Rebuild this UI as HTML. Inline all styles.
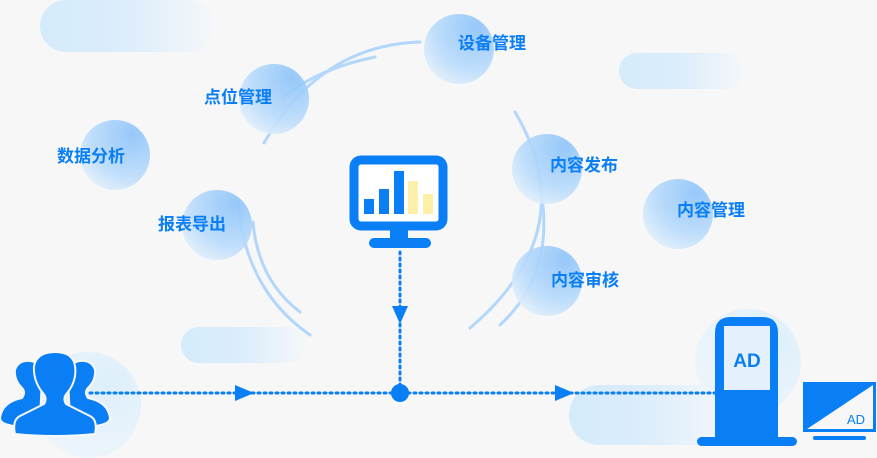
<!DOCTYPE html>
<html><head><meta charset="utf-8"><style>
body{margin:0;background:#f7f7f8;}
svg{display:block;font-family:"Liberation Sans","Noto Sans CJK SC",sans-serif;}
</style></head><body>
<svg width="877" height="458" viewBox="0 0 877 458">
<defs>
<radialGradient id="c" cx="0.75" cy="0.2" r="1">
<stop offset="0" stop-color="#8cc3fa"/><stop offset="0.6" stop-color="#b9dbfb"/><stop offset="1" stop-color="#eef5fc"/>
</radialGradient>
<linearGradient id="p" x1="0" x2="1"><stop offset="0" stop-color="#d4ebfb"/><stop offset="0.5" stop-color="#dcedfb"/><stop offset="1" stop-color="#f5f7f9"/></linearGradient>
<radialGradient id="g" cx="0.7" cy="0.3" r="0.8"><stop offset="0" stop-color="#ddeffb"/><stop offset="1" stop-color="#eef5fb"/></radialGradient>
</defs>
<rect x="40" y="0" width="175" height="52" rx="26" fill="url(#p)"/>
<rect x="619" y="53" width="125" height="36" rx="18" fill="url(#p)"/>
<rect x="181" y="327" width="125" height="36" rx="18" fill="url(#p)"/>
<rect x="569" y="385" width="160" height="60" rx="30" fill="url(#p)"/>
<circle cx="88" cy="405" r="53" fill="url(#g)"/>
<circle cx="748" cy="362" r="53" fill="url(#g)"/>
<g fill="none" stroke="#b3d7fb" stroke-width="3" stroke-linecap="round">
<path d="M264 143 Q320 45 420 42"/>
<path d="M283 97 Q320 68 375 57"/>
<path d="M515 112 Q585 230 470 328"/>
<path d="M538 175 Q560 270 500 325"/>
<path d="M238 202 Q245 290 310 335"/>
<path d="M253 222 Q258 280 300 312"/>
</g>
<circle cx="459" cy="49" r="35" fill="url(#c)" opacity="0.9"/>
<circle cx="274" cy="99" r="35" fill="url(#c)" opacity="0.9"/>
<circle cx="115" cy="155" r="35" fill="url(#c)" opacity="0.9"/>
<circle cx="217" cy="225" r="35" fill="url(#c)" opacity="0.9"/>
<circle cx="547" cy="169" r="35" fill="url(#c)" opacity="0.9"/>
<circle cx="678" cy="214" r="35" fill="url(#c)" opacity="0.9"/>
<circle cx="547" cy="281" r="35" fill="url(#c)" opacity="0.9"/>
<g fill="#0a7ff5" font-size="17" font-weight="bold" text-anchor="middle">
<text x="492" y="49">设备管理</text>
<text x="238" y="103">点位管理</text>
<text x="91" y="162">数据分析</text>
<text x="192" y="230">报表导出</text>
<text x="584" y="171">内容发布</text>
<text x="711" y="216">内容管理</text>
<text x="585" y="286">内容审核</text>
</g>
<rect x="354" y="160" width="89" height="66" rx="7" fill="#fff" stroke="#0a7ff5" stroke-width="9"/>
<rect x="364" y="199" width="10" height="15" fill="#0a7ff5"/>
<rect x="379" y="189" width="10" height="25" fill="#0a7ff5"/>
<rect x="394" y="171" width="10" height="43" fill="#0a7ff5"/>
<rect x="408" y="181" width="10" height="33" fill="#fdf0a8"/>
<rect x="423" y="194" width="10" height="20" fill="#fdf0a8"/>
<rect x="390" y="228" width="18" height="12" fill="#0a7ff5"/>
<rect x="369" y="238" width="62" height="10" rx="5" fill="#0a7ff5"/>
<g stroke="#0a7ff5" stroke-width="3" stroke-dasharray="2 4" stroke-linecap="round">
<line x1="400" y1="252" x2="400" y2="390"/>
<line x1="90" y1="393" x2="716" y2="393"/>
</g>
<polygon points="392,306 408,306 400,324" fill="#0a7ff5"/>
<polygon points="235,385 235,401 254,393" fill="#0a7ff5"/>
<polygon points="555,385 555,401 574,393" fill="#0a7ff5"/>
<circle cx="400" cy="393" r="9" fill="#0a7ff5"/>
<g fill="#0a7ff5" stroke="#f7f7f8" stroke-width="2">
<path d="M14 426 Q0 424 0 418 Q2 402 22 398 Q26 392 22 388 Q14 380 15 370 Q18 360 30 361 Q42 362 42 378 L40 420 Z"/>
<path d="M95 426 Q110 424 110 418 Q108 402 88 398 Q84 392 88 388 Q96 380 95 370 Q92 360 80 361 Q68 362 68 378 L70 420 Z"/>
<path d="M15 434 Q12 420 20 416 Q36 408 44 404 Q48 398 42 392 Q33 380 34 366 Q37 352 55 352 Q73 352 75 366 Q77 380 68 392 Q62 398 66 404 Q74 408 90 416 Q98 420 95 434 Q55 438 15 434 Z"/>
</g>
<path d="M715 333 Q715 317 731 317 L762 317 Q778 317 778 333 L778 437 L715 437 Z" fill="#0a7ff5"/>
<rect x="724" y="326" width="46" height="64" fill="#e4f1fc"/>
<text x="747" y="367" text-anchor="middle" font-size="19" font-weight="bold" fill="#0a7ff5">AD</text>
<rect x="697" y="437" width="100" height="9" rx="4.5" fill="#0a7ff5"/>
<rect x="803" y="382" width="73" height="50" fill="#0a7ff5"/>
<polygon points="807,429 873,385 873,429" fill="#f7f7f8"/>
<text x="856" y="424" text-anchor="middle" font-size="13" fill="#0a7ff5">AD</text>
<rect x="813" y="436" width="53" height="4" rx="2" fill="#0a7ff5"/>
</svg>
</body></html>
